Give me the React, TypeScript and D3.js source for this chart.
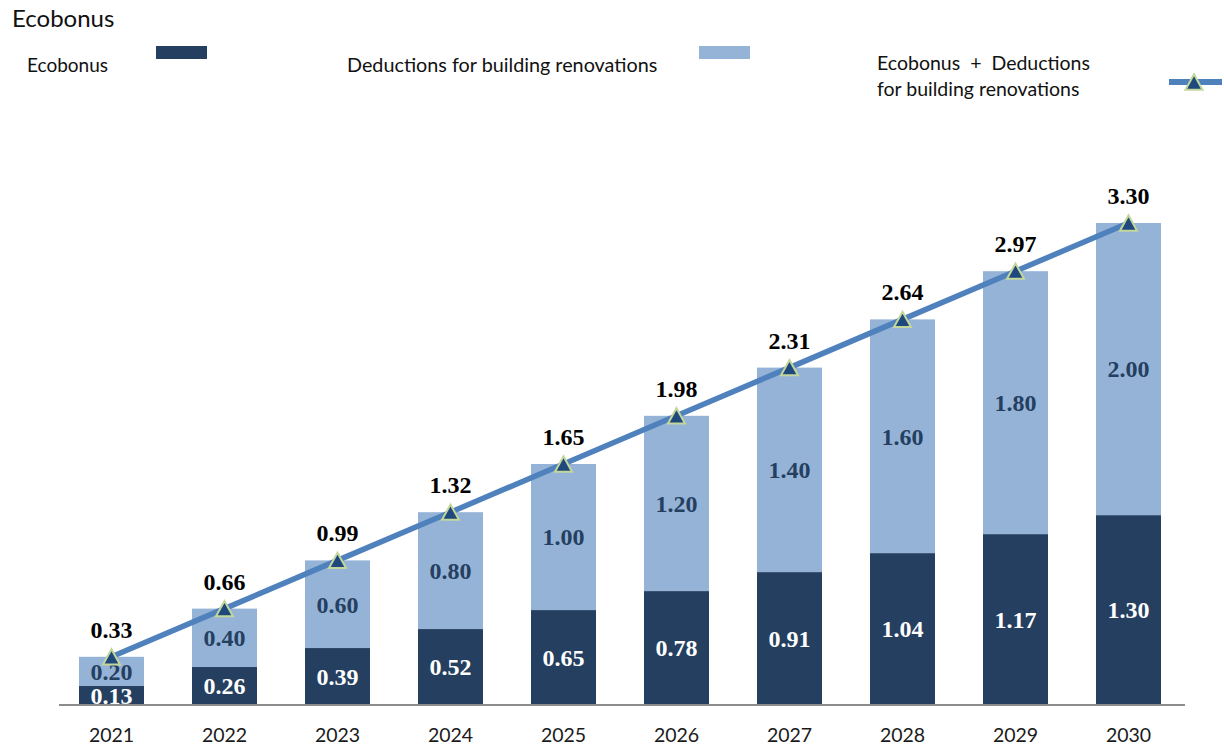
import React from "react";
import * as d3 from "d3";

const years = ["2021", "2022", "2023", "2024", "2025", "2026", "2027", "2028", "2029", "2030"];
const ecobonus = [0.13, 0.26, 0.39, 0.52, 0.65, 0.78, 0.91, 1.04, 1.17, 1.3];
const deductions = [0.2, 0.4, 0.6, 0.8, 1.0, 1.2, 1.4, 1.6, 1.8, 2.0];
const totals = [0.33, 0.66, 0.99, 1.32, 1.65, 1.98, 2.31, 2.64, 2.97, 3.3];

const W = 1224;
const H = 747;
const DARK = "#243F60";
const LIGHT = "#95B3D7";
const LINE = "#4F81BD";
const MARK_FILL = "#1F497D";
const MARK_STROKE = "#C3D69B";
const SERIF = "'Liberation Serif', 'Times New Roman', serif";
const SANS = "Lato, 'Noto Sans', sans-serif";

function tri(cx: number, cy: number, s: number) {
  const h = s * 0.9;
  return `M${cx},${cy - h / 2}L${cx + s / 2},${cy + h / 2}L${cx - s / 2},${cy + h / 2}Z`;
}

export default function App() {
  const x = d3.scaleBand<string>().domain(years).range([55, 1185]).paddingInner(0.425).paddingOuter(0.2125);
  const y = d3.scaleLinear().domain([0, 3.3]).range([705, 223]);
  const bw = x.bandwidth();
  const cx = (i: number) => (x(years[i]) as number) + bw / 2;

  const line = d3
    .line<number>()
    .x((_, i) => cx(i))
    .y((d) => y(d));

  return (
    <div style={{ position: "fixed", left: 0, top: 0 }}>
      <svg width={W} height={H} style={{ display: "block", background: "#fff" }}>
        {/* Title */}
        <text x={12} y={27} fontFamily={SANS} fontSize={24} fill="#111">Ecobonus</text>

        {/* Legend */}
        <text x={27} y={72} fontFamily={SANS} fontSize={19} fill="#111">Ecobonus</text>
        <rect x={156} y={46} width={51} height={13} fill={DARK} />
        <text x={347} y={72} fontFamily={SANS} fontSize={19.8} fill="#111">Deductions for building renovations</text>
        <rect x={699} y={46} width={51} height={13} fill={LIGHT} />
        <text x={877} y={70} fontFamily={SANS} fontSize={19.5} fill="#111" style={{ whiteSpace: "pre" }}>Ecobonus  +  Deductions</text>
        <text x={877} y={96} fontFamily={SANS} fontSize={19.5} fill="#111">for building renovations</text>
        <line x1={1169} x2={1222} y1={82} y2={82} stroke={LINE} strokeWidth={6} />
        <path d={tri(1194, 82, 17)} fill={MARK_FILL} stroke={MARK_STROKE} strokeWidth={2} />

        {/* Bars */}
        {years.map((yr, i) => {
          const x0 = x(yr) as number;
          const e = ecobonus[i];
          const dd = deductions[i];
          return (
            <g key={yr}>
              <rect x={x0} y={y(e)} width={bw} height={y(0) - y(e)} fill={DARK} />
              <rect x={x0} y={y(e + dd)} width={bw} height={y(e) - y(e + dd)} fill={LIGHT} />
            </g>
          );
        })}

        {/* Axis line */}
        <line x1={59} x2={1185} y1={705} y2={705} stroke="#8C8C8C" strokeWidth={2} />

        {/* Year labels */}
        {years.map((yr, i) => (
          <text key={yr} x={cx(i)} y={742} textAnchor="middle" fontFamily={SANS} fontSize={19.5} fill="#1a1a1a">{yr}</text>
        ))}

        {/* Segment labels */}
        {years.map((yr, i) => {
          const e = ecobonus[i];
          const dd = deductions[i];
          return (
            <g key={yr} fontFamily={SERIF} fontWeight="bold" fontSize={24} textAnchor="middle">
              <text x={cx(i)} y={(y(e) + y(e + dd)) / 2} dy="0.35em" fill={DARK}>{dd.toFixed(2)}</text>
              <text x={cx(i)} y={(y(0) + y(e)) / 2} dy="0.35em" fill="#fff">{e.toFixed(2)}</text>
            </g>
          );
        })}

        {/* Total line */}
        <path d={line(totals) as string} fill="none" stroke={LINE} strokeWidth={5.5} />
        {totals.map((t, i) => (
          <path key={i} d={tri(cx(i), y(t), 17)} fill={MARK_FILL} stroke={MARK_STROKE} strokeWidth={2} />
        ))}

        {/* Total labels */}
        {totals.map((t, i) => (
          <text key={i} x={cx(i)} y={y(t) - 19} textAnchor="middle" fontFamily={SERIF} fontWeight="bold" fontSize={24} fill="#000">{t.toFixed(2)}</text>
        ))}
      </svg>
    </div>
  );
}
